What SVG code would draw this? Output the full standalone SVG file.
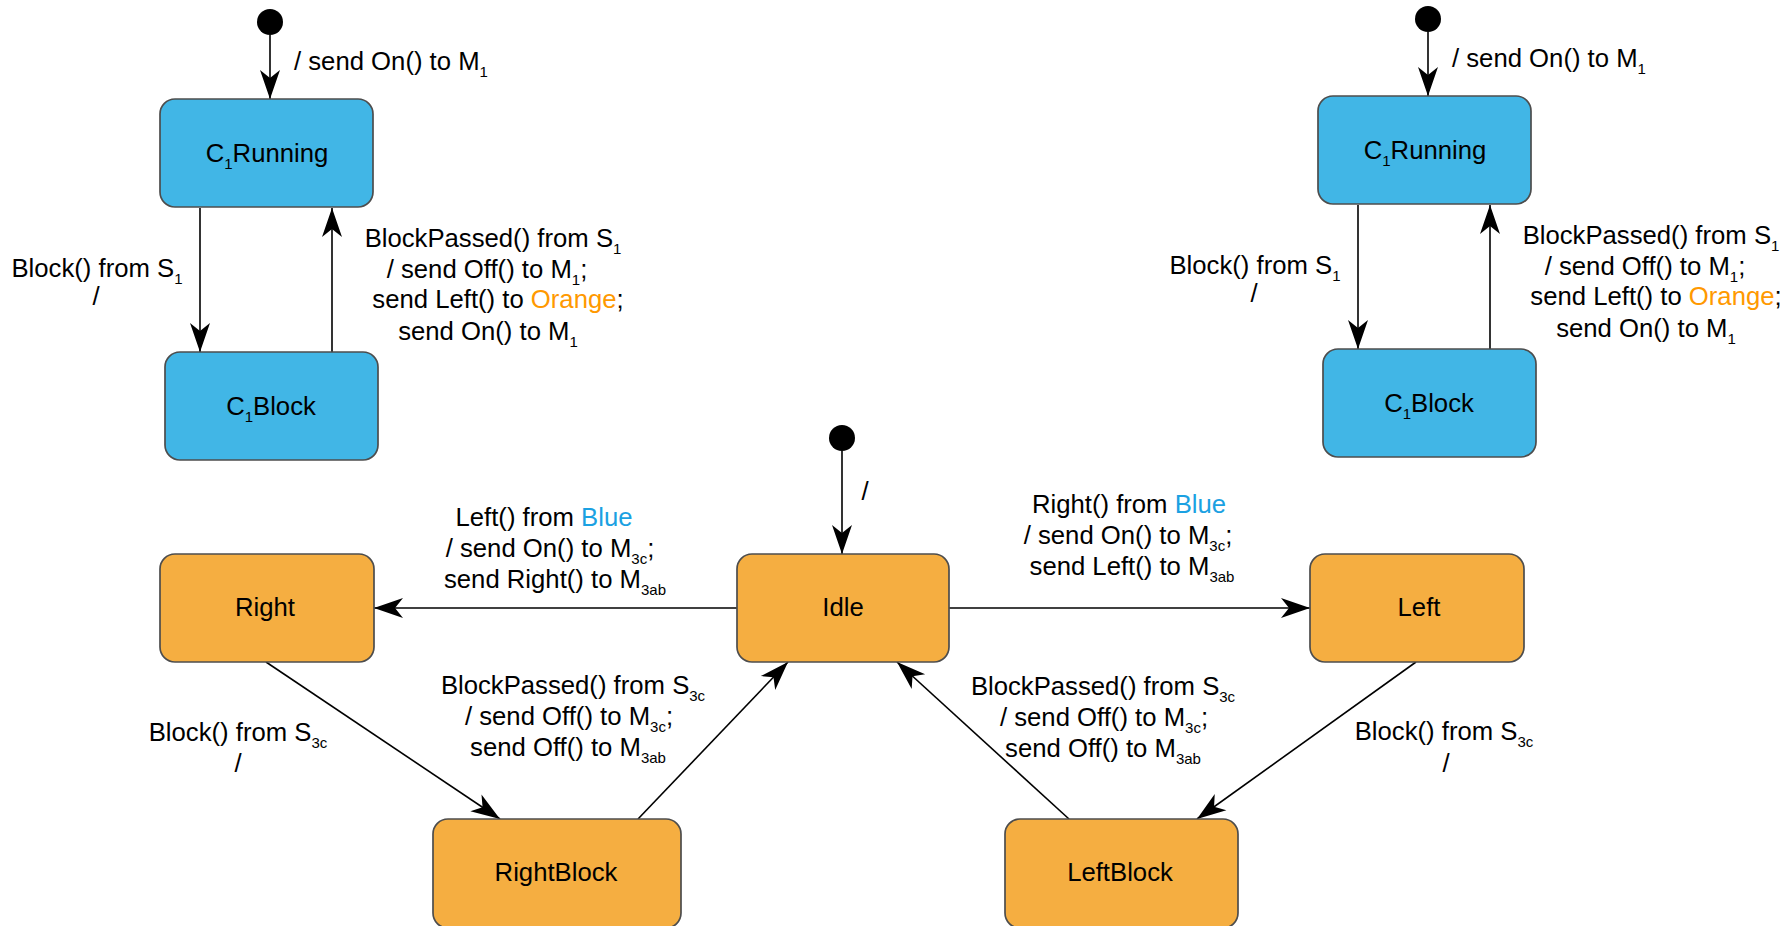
<svg xmlns="http://www.w3.org/2000/svg" width="1783" height="926" viewBox="0 0 1783 926">
<defs>
<style>
.blue{fill:#41b6e6;stroke:#4d4d4d;stroke-width:1.7}
.orng{fill:#f5ae41;stroke:#4d4d4d;stroke-width:1.7}
.dot{fill:#000}
text{font-family:"Liberation Sans",Arial,sans-serif;font-size:25.7px;fill:#000}
.c{text-anchor:middle}
.sub{font-size:15px}
.bt{fill:#1ba1e2}
.ot{fill:#ff9900}
.edge{stroke:#000;stroke-width:1.6;fill:none;marker-end:url(#arr)}
</style>
<marker id="arr" markerUnits="userSpaceOnUse" viewBox="-31 -12 33 24" markerWidth="33" markerHeight="24" refX="0" refY="0" orient="auto">
<path d="M0,0 L-29,-10 L-21,0 L-29,10 Z" fill="#000"/>
</marker>
</defs>
<rect width="1783" height="926" fill="#fff"/>

<g id="connectors">
<line class="edge" x1="270" y1="35" x2="270" y2="99"/>
<line class="edge" x1="200" y1="208" x2="200" y2="352"/>
<line class="edge" x1="332" y1="352" x2="332" y2="208"/>
<line class="edge" x1="1428" y1="32" x2="1428" y2="96"/>
<line class="edge" x1="1358" y1="205" x2="1358" y2="349"/>
<line class="edge" x1="1490" y1="349" x2="1490" y2="205"/>
<line class="edge" x1="842" y1="451" x2="842" y2="554"/>
<line class="edge" x1="737" y1="608" x2="374" y2="608"/>
<line class="edge" x1="949" y1="608" x2="1310" y2="608"/>
<line class="edge" x1="266" y1="662" x2="500" y2="819"/>
<line class="edge" x1="638" y1="819" x2="788" y2="662"/>
<line class="edge" x1="1416" y1="662" x2="1197" y2="819"/>
<line class="edge" x1="1069" y1="819" x2="897" y2="662"/>
</g>

<g id="labels">
<text x="294" y="70">/ send On() to M<tspan class="sub" dy="7">1</tspan></text>
<text class="c" x="97" y="277">Block() from S<tspan class="sub" dy="7">1</tspan></text>
<text class="c" x="96" y="305">/</text>
<text class="c" x="493" y="247">BlockPassed() from S<tspan class="sub" dy="7">1</tspan></text>
<text class="c" x="487" y="278">/ send Off() to M<tspan class="sub" dy="7">1</tspan><tspan dy="-7">;</tspan></text>
<text class="c" x="498" y="308">send Left() to <tspan class="ot">Orange</tspan>;</text>
<text class="c" x="488" y="340">send On() to M<tspan class="sub" dy="7">1</tspan></text>

<text x="1452" y="67">/ send On() to M<tspan class="sub" dy="7">1</tspan></text>
<text class="c" x="1255" y="274">Block() from S<tspan class="sub" dy="7">1</tspan></text>
<text class="c" x="1254" y="302">/</text>
<text class="c" x="1651" y="244">BlockPassed() from S<tspan class="sub" dy="7">1</tspan></text>
<text class="c" x="1645" y="275">/ send Off() to M<tspan class="sub" dy="7">1</tspan><tspan dy="-7">;</tspan></text>
<text class="c" x="1656" y="305">send Left() to <tspan class="ot">Orange</tspan>;</text>
<text class="c" x="1646" y="337">send On() to M<tspan class="sub" dy="7">1</tspan></text>

<text class="c" x="865" y="500">/</text>
<text class="c" x="544" y="526">Left() from <tspan class="bt">Blue</tspan></text>
<text class="c" x="550" y="557">/ send On() to M<tspan class="sub" dy="7">3c</tspan><tspan dy="-7">;</tspan></text>
<text class="c" x="555" y="588">send Right() to M<tspan class="sub" dy="7">3ab</tspan></text>
<text class="c" x="1129" y="513">Right() from <tspan class="bt">Blue</tspan></text>
<text class="c" x="1128" y="544">/ send On() to M<tspan class="sub" dy="7">3c</tspan><tspan dy="-7">;</tspan></text>
<text class="c" x="1132" y="575">send Left() to M<tspan class="sub" dy="7">3ab</tspan></text>

<text class="c" x="238" y="741">Block() from S<tspan class="sub" dy="7">3c</tspan></text>
<text class="c" x="238" y="772">/</text>
<text class="c" x="573" y="694">BlockPassed() from S<tspan class="sub" dy="7">3c</tspan></text>
<text class="c" x="569" y="725">/ send Off() to M<tspan class="sub" dy="7">3c</tspan><tspan dy="-7">;</tspan></text>
<text class="c" x="568" y="756">send Off() to M<tspan class="sub" dy="7">3ab</tspan></text>
<text class="c" x="1103" y="695">BlockPassed() from S<tspan class="sub" dy="7">3c</tspan></text>
<text class="c" x="1104" y="726">/ send Off() to M<tspan class="sub" dy="7">3c</tspan><tspan dy="-7">;</tspan></text>
<text class="c" x="1103" y="757">send Off() to M<tspan class="sub" dy="7">3ab</tspan></text>
<text class="c" x="1444" y="740">Block() from S<tspan class="sub" dy="7">3c</tspan></text>
<text class="c" x="1446" y="772">/</text>
</g>

<g id="init1"><circle class="dot" cx="270" cy="22" r="13"/></g>
<g id="init2"><circle class="dot" cx="1428" cy="19" r="13"/></g>
<g id="init3"><circle class="dot" cx="842" cy="438" r="13"/></g>

<g id="c1running-a">
<rect class="blue" x="160" y="99" width="213" height="108" rx="15"/>
<text class="c" x="267" y="162">C<tspan class="sub" dy="7">1</tspan><tspan dy="-7">Running</tspan></text>
</g>
<g id="c1block-a">
<rect class="blue" x="165" y="352" width="213" height="108" rx="15"/>
<text class="c" x="271" y="415">C<tspan class="sub" dy="7">1</tspan><tspan dy="-7">Block</tspan></text>
</g>
<g id="c1running-b">
<rect class="blue" x="1318" y="96" width="213" height="108" rx="15"/>
<text class="c" x="1425" y="159">C<tspan class="sub" dy="7">1</tspan><tspan dy="-7">Running</tspan></text>
</g>
<g id="c1block-b">
<rect class="blue" x="1323" y="349" width="213" height="108" rx="15"/>
<text class="c" x="1429" y="412">C<tspan class="sub" dy="7">1</tspan><tspan dy="-7">Block</tspan></text>
</g>

<g id="idle">
<rect class="orng" x="737" y="554" width="212" height="108" rx="15"/>
<text class="c" x="843" y="616">Idle</text>
</g>
<g id="right">
<rect class="orng" x="160" y="554" width="214" height="108" rx="15"/>
<text class="c" x="265" y="616">Right</text>
</g>
<g id="left">
<rect class="orng" x="1310" y="554" width="214" height="108" rx="15"/>
<text class="c" x="1419" y="616">Left</text>
</g>
<g id="rightblock">
<rect class="orng" x="433" y="819" width="248" height="109" rx="15"/>
<text class="c" x="556" y="881">RightBlock</text>
</g>
<g id="leftblock">
<rect class="orng" x="1005" y="819" width="233" height="109" rx="15"/>
<text class="c" x="1120" y="881">LeftBlock</text>
</g>
</svg>
